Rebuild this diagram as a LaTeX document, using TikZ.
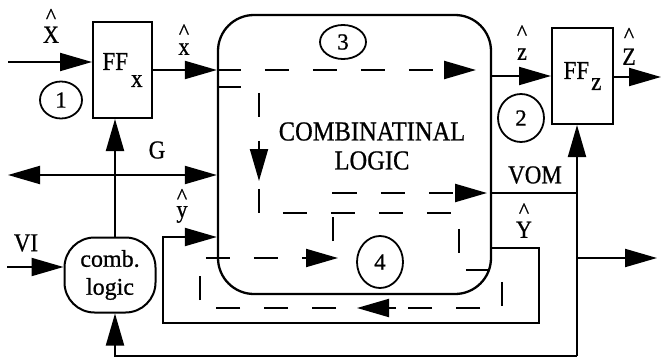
\documentclass[tikz,border=0pt]{standalone}
\usepackage{fontspec}
\setmainfont{Liberation Serif}[FakeBold=0.8]
\usepackage{graphicx}
\usetikzlibrary{arrows.meta,shapes.geometric}
\newcommand\vst[1]{\scalebox{1}[1.12]{#1}}
\begin{document}
\begin{tikzpicture}[x=1pt,y=-1pt,
  wire/.style={line width=2pt},
  arr/.style={wire,-{Triangle[length=32pt,width=18pt]}},
  dsh/.style={line width=2.3pt, dash pattern=on 24pt off 24pt},
  box/.style={draw, line width=2pt, inner sep=0pt},
  txt/.style={font=\fontsize{23}{26}\selectfont, inner sep=0pt},
  num/.style={draw, ellipse, line width=1.8pt, inner sep=0pt, font=\fontsize{23}{26}\selectfont},
  hat/.style={font=\fontsize{22}{20}\selectfont, align=center, inner sep=0pt, anchor=south}]
\useasboundingbox (0,0) rectangle (663,361);

% blocks
\node[box, line width=2.3pt, rounded corners=36pt, minimum width=273pt, minimum height=279pt] (main) at (354.5,154.5) {};
\node[txt, align=center, font=\fontsize{24.5}{29}\selectfont] (cl) at (372,146) {\vst{COMBINATINAL}\\\vst{LOGIC}};
\node[box, minimum width=59pt, minimum height=96pt, font=\fontsize{23}{26}\selectfont] (ffx) at (122.5,70) {\vst{FF}\kern3pt\raisebox{-17pt}{\vst{x}}};
\node[box, minimum width=61pt, minimum height=96pt, font=\fontsize{23}{26}\selectfont] (ffz) at (582.5,76) {\vst{FF}\kern2pt\raisebox{-11pt}{\vst{z}}};
\node[box, rounded corners=30pt, minimum width=91pt, minimum height=75pt, align=center, font=\fontsize{24}{28}\selectfont] (comb) at (110,275) {comb.\\logic};

% circled numbers
\node[num, minimum width=42pt, minimum height=37pt] (n1) at (61,100) {1};
\node[num, minimum width=46pt, minimum height=48pt] (n2) at (521,118) {2};
\node[num, minimum width=46pt, minimum height=34pt] (n3) at (343,42) {3};
\node[num, minimum width=46pt, minimum height=52pt] (n4) at (380,262) {4};

% labels
\node[hat] (lX) at (51,43) {\textasciicircum\\[-0.5pt]\vst{X}};
\node[hat] (lx) at (184,55) {\textasciicircum\\[-4pt]\vst{x}};
\node[hat] (lz) at (522,60) {\textasciicircum\\[0pt]\vst{z}};
\node[hat] (lZ) at (629,65) {\textasciicircum\\[2.5pt]\vst{Z}};
\node[hat] (ly) at (182,223) {\textasciicircum\\[-6pt]\vst{y}};
\node[hat] (lY) at (524,238) {\textasciicircum\\[0pt]\vst{Y}};
\node[txt] (lG) at (157,150) {\vst{G}};
\node[txt] (lVI) at (26,243) {\vst{VI}};
\node[txt] (lVOM) at (535,175) {\vst{VOM}};

% coordinates
\coordinate (xin) at (8,62);
\coordinate (gl) at (8,175);
\coordinate (gv) at (115,175);
\coordinate (vi) at (7,267);
\coordinate (bl) at (577,356);
\coordinate (vom) at (577,193);
\coordinate (yo) at (577,258);
\coordinate (yout) at (657,258);
\coordinate (zout) at (661,77);
\coordinate (ly1) at (539,248);
\coordinate (ly2) at (539,323);
\coordinate (ly3) at (163,323);
\coordinate (ly4) at (163,237);

% solid connectors
\draw[arr] (xin) -- (xin -| ffx.west);
\draw[arr] (ffx.east) -- (ffx.east -| main.west);
\draw[wire,{Triangle[length=32pt,width=18pt]}-{Triangle[length=32pt,width=18pt]}] (gl) -- (gl -| main.west);
\draw[arr] (gv |- comb.north) -- (gv |- ffx.south);
\draw[arr] (vi) -- (vi -| comb.west);
\draw[arr] (bl) -- (bl -| gv) -- (gv |- comb.south);
\draw[arr] (bl) -- (bl |- ffz.south);
\draw[wire] (vom -| main.east) -- (vom);
\draw[arr] (yo) -- (yout);
\draw[arr] (main.east |- ffz.west) -- (ffz.west);
\draw[arr] (ffz.east |- zout) -- (zout);
\draw[arr] (ly1 -| main.east) -- (ly1) -- (ly2) -- (ly3) -- (ly4) -- (ly4 -| main.west);

% dashed paths
\coordinate (d3) at (476,70);
\draw[dsh,-{Triangle[length=32pt,width=18pt]}] (d3 -| main.west) -- (d3);

\coordinate (q1) at (259,87);
\coordinate (q2) at (259,213);
\coordinate (q3) at (459,213);
\coordinate (q4) at (459,270);
\coordinate (q5) at (502,270);
\coordinate (q6) at (502,308);
\coordinate (q7) at (200,308);
\coordinate (q8) at (200,258);
\coordinate (q9) at (333,258);
\coordinate (q10) at (333,193);
\coordinate (q11) at (487,193);
\draw[dsh,-{Triangle[length=32pt,width=18pt]}] (q1 -| main.west) -- (q1) -- (q2) -- (q3) -- (q4) -- (q5) -- (q6) -- (q7) -- (q8) -- (q9) -- (q10) -- (q11);

% arrows along the dashed path
\coordinate (m1a) at (259,146);
\coordinate (m1b) at (259,181);
\coordinate (m2a) at (396,308);
\coordinate (m2b) at (357,308);
\coordinate (m3a) at (302,258);
\coordinate (m3b) at (338,258);
\draw[arr] (m1a) -- (m1b);
\draw[arr] (m2a) -- (m2b);
\draw[arr] (m3a) -- (m3b);
\end{tikzpicture}
\end{document}
